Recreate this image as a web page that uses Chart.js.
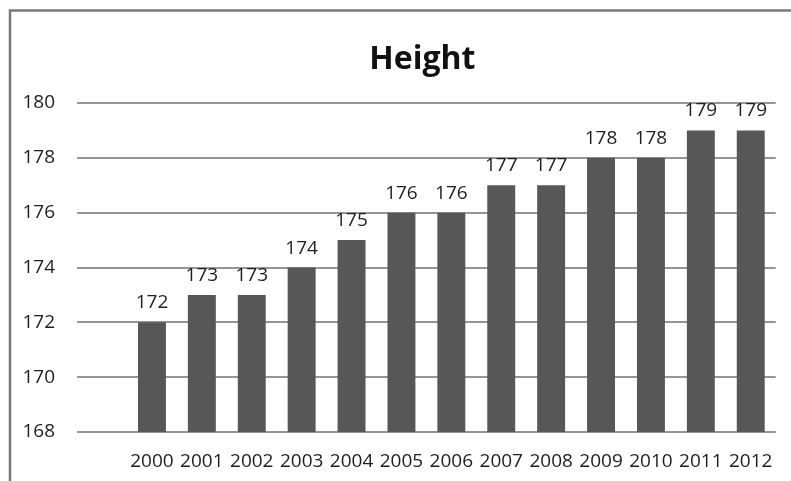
<!DOCTYPE html>
<html>
<head>
<meta charset="utf-8">
<script src="https://cdn.jsdelivr.net/npm/chart.js@4/dist/chart.umd.min.js"></script>
<style>
  html, body { margin: 0; padding: 0; background: #ffffff; }
  #wrap { width: 791px; height: 481px; position: relative; }
</style>
</head>
<body>
<div id="wrap"><canvas id="c" width="791" height="481"></canvas></div>
<script>
// Yearly height values
const years = ['2000', '2001', '2002', '2003', '2004', '2005', '2006', '2007', '2008', '2009', '2010', '2011', '2012'];
const heights = [172, 173, 173, 174, 175, 176, 176, 177, 177, 178, 178, 179, 179];
const yTicks = [168, 170, 172, 174, 176, 178, 180];

const titleText = 'Height';
const FONT = "'Open Sans', 'DejaVu Sans', sans-serif";
const GRID_EXT = 50; // gridlines run this far left of the plot area

// White page with a frame on the left and top edges
const framePlugin = {
  id: 'frame',
  beforeDraw(chart) {
    const ctx = chart.ctx;
    ctx.save();
    ctx.fillStyle = '#ffffff';
    ctx.fillRect(0, 0, chart.width, chart.height);
    ctx.strokeStyle = '#7a7a7a';
    ctx.lineWidth = 2.5;
    ctx.beginPath();
    ctx.moveTo(10, chart.height);
    ctx.lineTo(10, 10.5);
    ctx.lineTo(chart.width, 10.5);
    ctx.stroke();
    ctx.restore();
  }
};

// Chart heading, centred over the gridlines
const headingPlugin = {
  id: 'heading',
  afterDraw(chart) {
    const a = chart.chartArea;
    const ctx = chart.ctx;
    ctx.save();
    ctx.font = "bold 32px " + FONT;
    ctx.fillStyle = '#111111';
    ctx.textAlign = 'center';
    ctx.textBaseline = 'alphabetic';
    ctx.fillText(titleText, (a.left - GRID_EXT + a.right) / 2 - 4, a.top - 34);
    ctx.restore();
  }
};

// Value printed above each bar
const valueLabelPlugin = {
  id: 'valueLabels',
  afterDatasetsDraw(chart) {
    const ctx = chart.ctx;
    const meta = chart.getDatasetMeta(0);
    ctx.save();
    ctx.font = "19px " + FONT;
    ctx.fillStyle = '#1e1e1e';
    ctx.textAlign = 'center';
    ctx.textBaseline = 'alphabetic';
    meta.data.forEach((bar, i) => {
      ctx.fillText(String(heights[i]), bar.x, bar.y - 14);
    });
    ctx.restore();
  }
};

new Chart(document.getElementById('c'), {
  type: 'bar',
  data: {
    labels: years,
    datasets: [{
      data: heights,
      backgroundColor: '#575757',
      borderWidth: 0,
      barPercentage: 0.56,
      categoryPercentage: 1.0
    }]
  },
  options: {
    responsive: false,
    animation: false,
    devicePixelRatio: 1,
    layout: { padding: { left: 0, right: 14, top: 103, bottom: 0 } },
    plugins: {
      legend: { display: false },
      title: { display: false },
      tooltip: { enabled: false }
    },
    scales: {
      x: {
        grid: { display: false, drawTicks: false },
        border: { display: false },
        ticks: {
          color: '#1e1e1e',
          font: { family: FONT, size: 19 },
          padding: 18,
          maxRotation: 0,
          autoSkip: false
        },
        afterFit(scale) { scale.height = 49; }
      },
      y: {
        min: 168,
        max: 180,
        afterBuildTicks(scale) { scale.ticks = yTicks.map(v => ({ value: v })); },
        grid: {
          color: '#959595',
          lineWidth: 2,
          drawTicks: true,
          tickLength: GRID_EXT
        },
        border: { display: false },
        ticks: {
          color: '#1e1e1e',
          font: { family: FONT, size: 19 },
          padding: 22
        },
        afterFit(scale) { scale.width = 127; }
      }
    }
  },
  plugins: [framePlugin, headingPlugin, valueLabelPlugin]
});
</script>
</body>
</html>
